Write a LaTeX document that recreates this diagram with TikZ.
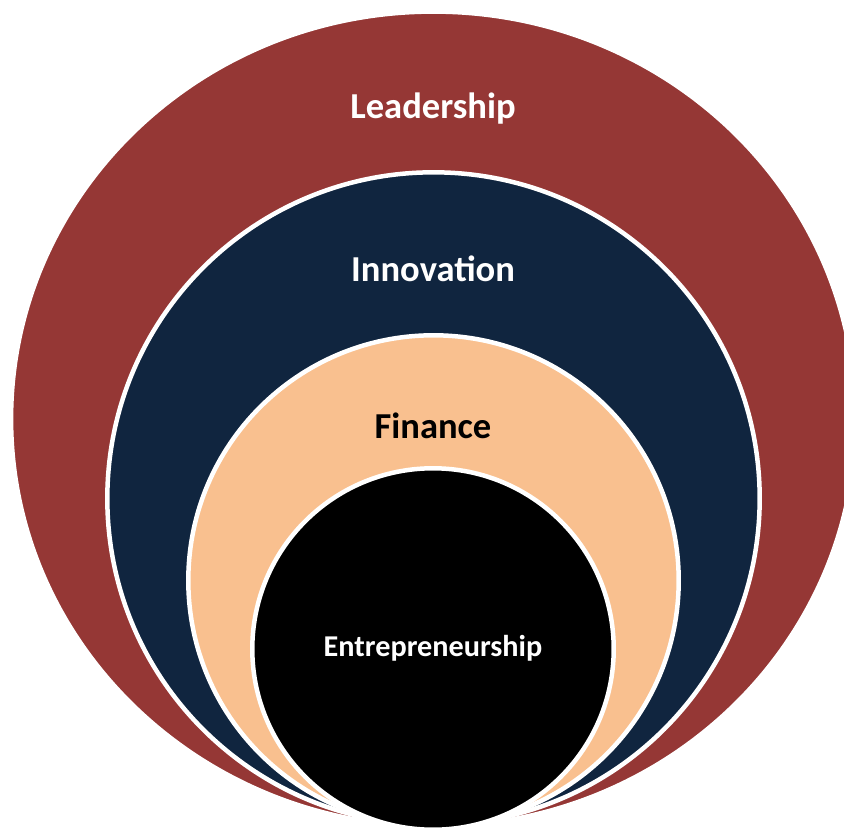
\documentclass[tikz,border=0pt]{standalone}
\usepackage{fontspec}
\setmainfont{Carlito}
\usetikzlibrary{shapes.geometric}
\definecolor{leadred}{HTML}{953735}
\definecolor{innonavy}{HTML}{10253F}
\definecolor{finpeach}{HTML}{F9C08F}

\begin{document}
\begin{tikzpicture}[x=0.02cm,y=-0.02cm,
  ring/.style={circle,draw=white,line width=0.09cm,inner sep=0pt},
  lbl/.style={anchor=base,text=white,font=\bfseries\fontsize{20.8}{23}\selectfont}]
\useasboundingbox (0,0) rectangle (844,834);

% rings, outside in
\node[ring,ellipse,fill=leadred,minimum width=16.9cm,minimum height=16.3cm] (lead) at (433.5,419) {};
\node[ring,fill=innonavy,minimum size=13.05cm] (inno) at (433.5,498.5) {};
\node[ring,fill=finpeach,minimum size=9.81cm] (fin) at (433.5,580.5) {};
\node[ring,fill=black,minimum size=7.23cm] (entr) at (433,649) {};

% labels
\node[lbl] (lead-t) at (433,119) {Leadership};
\node[lbl] (inno-t) at (433,281) {Innovation};
\node[lbl,text=black] (fin-t) at (433,438) {Finance};
\node[lbl,font=\bfseries\fontsize{17.2}{19}\selectfont] (entr-t) at (433,656) {Entrepreneurship};
\end{tikzpicture}
\end{document}
